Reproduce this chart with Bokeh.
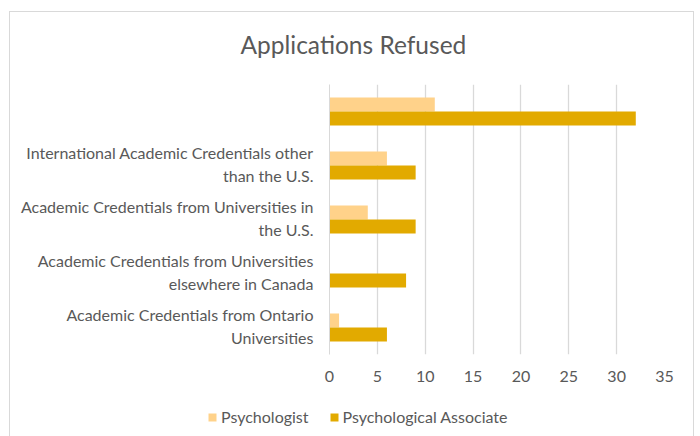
from bokeh.plotting import figure
from bokeh.layouts import column
from bokeh.models import ColumnDataSource, Range1d, Legend, LegendItem, FixedTicker, Title
from bokeh.embed import file_html
from bokeh.resources import INLINE

# bottom to top
categories = [
    "Academic Credentials from Ontario Universities",
    "Academic Credentials from Universities elsewhere in Canada",
    "Academic Credentials from Universities in the U.S.",
    "International Academic Credentials other than the U.S.",
    "",
]
label_line1 = [
    "Academic Credentials from Ontario",
    "Academic Credentials from Universities",
    "Academic Credentials from Universities in",
    "International Academic Credentials other",
    "",
]
label_line2 = [
    "Universities",
    "elsewhere in Canada",
    "the U.S.",
    "than the U.S.",
    "",
]
psychologist = [1, 0, 4, 6, 11]
psych_associate = [6, 8, 9, 9, 32]
x_ticks = [0, 5, 10, 15, 20, 25, 30, 35]
series_names = ["Psychologist", "Psychological Associate"]
series_colors = ["#FFD28A", "#E2AA00"]

TEXT = "#595959"
FONT = "Lato"
BORDER = "#D9D9D9"

pos = list(range(len(categories)))
src = ColumnDataSource(dict(
    pos_psy=[i + 0.13 for i in pos],
    pos_assoc=[i - 0.13 for i in pos],
    psy=psychologist, assoc=psych_associate))

ticks, overrides = [], {}
for i, (a, b) in enumerate(zip(label_line1, label_line2)):
    t1, t2 = round(i + 0.24, 2), round(i - 0.19, 2)
    ticks += [t1, t2]
    overrides[t1] = a
    overrides[t2] = b

p = figure(width=700, height=392, output_backend="svg", toolbar_location=None,
           y_range=Range1d(-0.5, len(categories) - 0.5),
           x_range=Range1d(0, 35),
           min_border_left=329, min_border_right=36, min_border_top=84, min_border_bottom=38)
p.frame_align = False
p.border_fill_color = None
p.background_fill_color = None

r1 = p.hbar(y="pos_psy", right="psy", height=0.26, source=src,
            color=series_colors[0], line_color=None)
r2 = p.hbar(y="pos_assoc", right="assoc", height=0.26, source=src,
            color=series_colors[1], line_color=None)

p.title = Title(text="Applications Refused", align="left", offset=-89, text_font=FONT,
                text_font_size="24.5px", text_color=TEXT, text_font_style="normal", standoff=52)

p.outline_line_color = None
p.ygrid.grid_line_color = None
p.xgrid.grid_line_color = BORDER
p.xgrid.grid_line_width = 1.3
p.xaxis.ticker = FixedTicker(ticks=x_ticks)
p.xaxis.axis_line_color = None
p.xaxis.major_tick_line_color = None
p.xaxis.minor_tick_line_color = None
p.xaxis.major_label_text_font = FONT
p.xaxis.major_label_text_font_size = "16px"
p.xaxis.major_label_text_color = TEXT
p.xaxis.major_label_standoff = 10

p.yaxis.ticker = FixedTicker(ticks=ticks)
p.yaxis.major_label_overrides = overrides
p.yaxis.axis_line_color = BORDER
p.yaxis.major_tick_line_color = None
p.yaxis.minor_tick_line_color = None
p.yaxis.major_label_text_font = FONT
p.yaxis.major_label_text_font_size = "16px"
p.yaxis.major_label_text_color = TEXT
p.yaxis.major_label_standoff = 10

# legend strip below the chart
lf = figure(width=700, height=44, output_backend="svg", toolbar_location=None,
            x_range=Range1d(0, 1), y_range=Range1d(0, 1),
            x_axis_type=None, y_axis_type=None,
            min_border_left=0, min_border_right=0, min_border_top=0, min_border_bottom=0)
lf.frame_align = False
lf.border_fill_color = None
lf.background_fill_color = None
lf.outline_line_color = None
lf.grid.visible = False
l1 = lf.hbar(y="pos_psy", right="psy", height=0.26, source=src,
             color=series_colors[0], line_color=None, visible=False)
l2 = lf.hbar(y="pos_assoc", right="assoc", height=0.26, source=src,
             color=series_colors[1], line_color=None, visible=False)
legend = Legend(items=[LegendItem(label=series_names[0], renderers=[l1]),
                       LegendItem(label=series_names[1], renderers=[l2])],
                orientation="horizontal", location=(207, 10),
                label_text_font=FONT, label_text_font_size="16px", label_text_color=TEXT,
                glyph_width=10, glyph_height=10, spacing=20, label_standoff=4, padding=0,
                margin=0, border_line_color=None, background_fill_alpha=0)
lf.add_layout(legend)

layout = column(p, lf, spacing=0)
line = f"linear-gradient({BORDER},{BORDER})"
layout.styles = {
    "background": (f"{line} 9px 11px / 1px 425px no-repeat, "
                   f"{line} 9px 11px / 685px 1px no-repeat, "
                   f"{line} 693px 11px / 1px 425px no-repeat, white"),
}
open("out.html", "w").write(file_html(layout, INLINE))
